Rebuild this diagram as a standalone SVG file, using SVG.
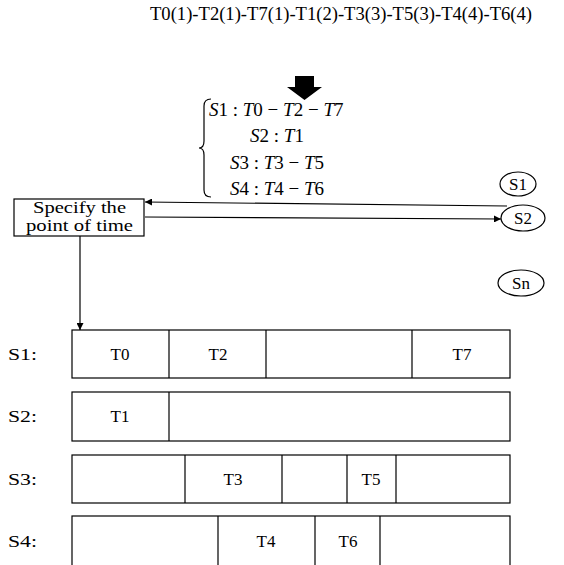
<svg xmlns="http://www.w3.org/2000/svg" width="564" height="565" viewBox="0 0 564 565">
<defs>
<style>
text{font-family:"Liberation Serif","Times New Roman",serif;fill:#000}
.t{font-size:17px}
.b{font-size:16px}
.m{font-size:19px}
.i{font-style:italic}
.box{fill:#fff;stroke:#000;stroke-width:1.2}
.ln{fill:none;stroke:#000;stroke-width:1.2}
</style>
<marker id="ah" viewBox="0 0 10 10" refX="10" refY="5" markerWidth="10" markerHeight="7" markerUnits="userSpaceOnUse" orient="auto">
<path d="M0,0 L10,5 L0,10 z" fill="#000"/>
</marker>
</defs>
<rect width="564" height="565" fill="#fff"/>
<text id="title" x="150" y="20" textLength="382" lengthAdjust="spacingAndGlyphs" style="font-size:18px">T0(1)-T2(1)-T7(1)-T1(2)-T3(3)-T5(3)-T4(4)-T6(4)</text>
<path id="bigarrow" d="M295,76 H314 V87 H322 L304.5,100 L287,87 H295 Z" fill="#000"/>
<g id="equations">
<path class="ln" d="M211,99 Q204,99 204,106 V141 Q204,148 199,148 Q204,148 204,155 V190 Q204,197 211,197"/>
<text class="m" x="209" y="116"><tspan class="i">S</tspan>1 : <tspan class="i">T</tspan>0 − <tspan class="i">T</tspan>2 − <tspan class="i">T</tspan>7</text>
<text class="m" x="277" y="142" text-anchor="middle"><tspan class="i">S</tspan>2 : <tspan class="i">T</tspan>1</text>
<text class="m" x="277" y="169" text-anchor="middle"><tspan class="i">S</tspan>3 : <tspan class="i">T</tspan>3 − <tspan class="i">T</tspan>5</text>
<text class="m" x="277" y="195" text-anchor="middle"><tspan class="i">S</tspan>4 : <tspan class="i">T</tspan>4 − <tspan class="i">T</tspan>6</text>
</g>
<g id="specify">
<rect class="box" x="14" y="199" width="130" height="37"/>
<text class="b" x="33" y="213" textLength="93" lengthAdjust="spacingAndGlyphs">Specify the</text>
<text class="b" x="26" y="231" textLength="107" lengthAdjust="spacingAndGlyphs">point of time</text>
</g>
<g id="nS1"><ellipse class="box" cx="518" cy="184" rx="18" ry="12"/><text class="t" x="518" y="190" text-anchor="middle">S1</text></g>
<g id="nS2"><ellipse class="box" cx="523" cy="218" rx="22" ry="13"/><text class="t" x="523" y="224" text-anchor="middle">S2</text></g>
<g id="nSn"><ellipse class="box" cx="521" cy="283" rx="23" ry="13"/><text class="t" x="521" y="289" text-anchor="middle">Sn</text></g>
<g id="connectors">
<line class="ln" x1="507" y1="206" x2="145" y2="202" marker-end="url(#ah)"/>
<line class="ln" x1="145" y1="217" x2="501" y2="219" marker-end="url(#ah)"/>
<line class="ln" x1="80" y1="236" x2="80" y2="330" marker-end="url(#ah)"/>
</g>
<g id="rowS1">
<text class="t" x="8" y="360" textLength="29" lengthAdjust="spacingAndGlyphs">S1:</text>
<rect class="box" x="72" y="330" width="438" height="48"/>
<path class="ln" d="M169,330V378M266,330V378M412,330V378"/>
<text class="t" x="120" y="360" text-anchor="middle">T0</text>
<text class="t" x="218" y="360" text-anchor="middle">T2</text>
<text class="t" x="462" y="360" text-anchor="middle">T7</text>
</g>
<g id="rowS2">
<text class="t" x="8" y="422" textLength="29" lengthAdjust="spacingAndGlyphs">S2:</text>
<rect class="box" x="72" y="392" width="438" height="49"/>
<path class="ln" d="M169,392V441"/>
<text class="t" x="120" y="422" text-anchor="middle">T1</text>
</g>
<g id="rowS3">
<text class="t" x="8" y="485" textLength="29" lengthAdjust="spacingAndGlyphs">S3:</text>
<rect class="box" x="72" y="455" width="438" height="48"/>
<path class="ln" d="M185,455V503M282,455V503M347,455V503M396,455V503"/>
<text class="t" x="233" y="485" text-anchor="middle">T3</text>
<text class="t" x="371" y="485" text-anchor="middle">T5</text>
</g>
<g id="rowS4">
<text class="t" x="8" y="547" textLength="29" lengthAdjust="spacingAndGlyphs">S4:</text>
<rect class="box" x="72" y="516" width="438" height="52"/>
<path class="ln" d="M218,516V565M315,516V565M380,516V565"/>
<text class="t" x="266" y="547" text-anchor="middle">T4</text>
<text class="t" x="348" y="547" text-anchor="middle">T6</text>
</g>
</svg>
